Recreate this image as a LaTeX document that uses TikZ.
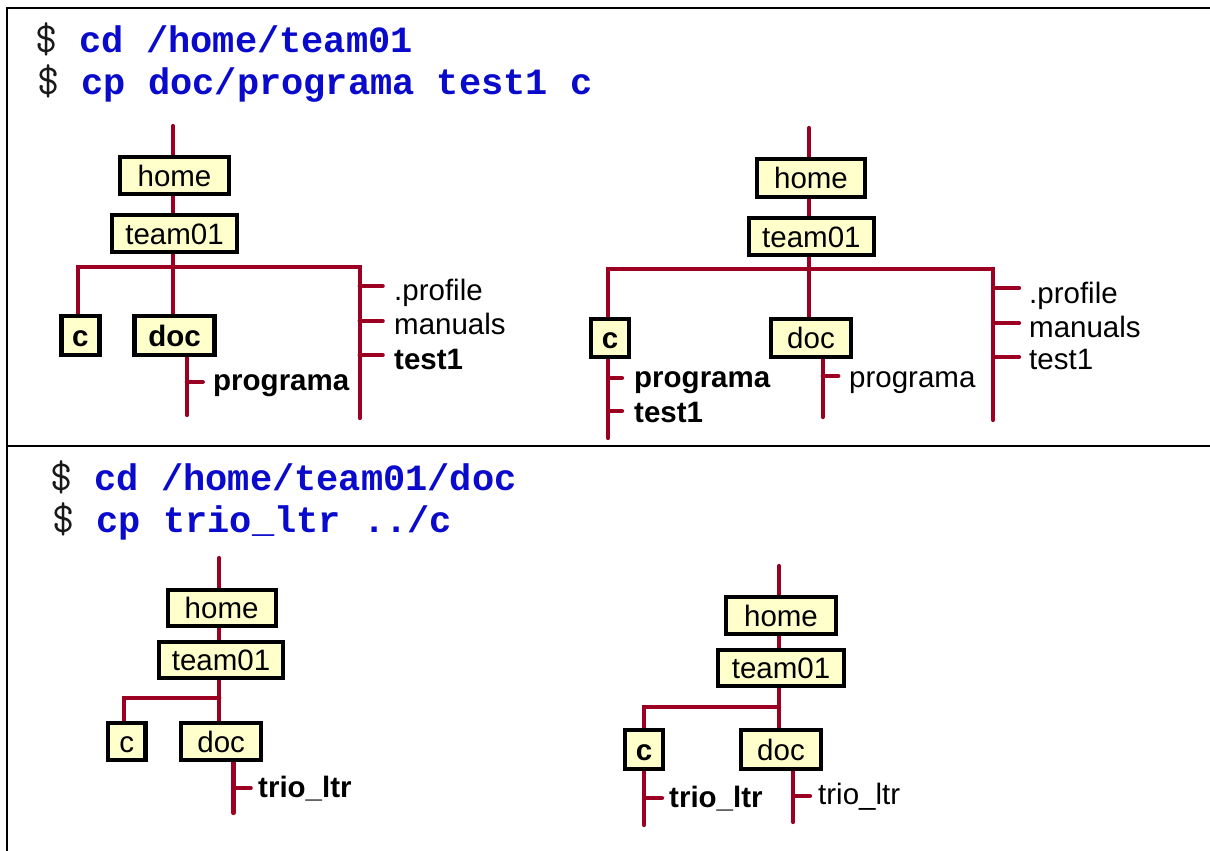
\documentclass[tikz,border=0pt]{standalone}
\usepackage{fontspec}
\setmainfont{Liberation Sans}
\newfontfamily\cmdfont{Liberation Mono}
\usetikzlibrary{backgrounds}
\definecolor{treered}{RGB}{155,0,35}
\definecolor{cmdblue}{RGB}{10,10,205}
\definecolor{boxfill}{RGB}{255,255,204}
\definecolor{dollar}{RGB}{25,25,25}
\tikzset{
  frame/.style={line width=2.5pt, black},
  tree/.style={line width=4.2pt, treered, line cap=round, line join=miter},
  dirbox/.style={draw=black, line width=4.2pt, fill=boxfill, inner sep=0pt, text height=21pt, text depth=0pt},
  item/.style={anchor=base west, inner sep=0pt},
  cmd/.style={anchor=base west, inner sep=0pt, font=\cmdfont\fontsize{37}{40}\selectfont},
  treefont/.style={font=\fontsize{29.5}{33}\selectfont},
}
\newcommand{\dollarsign}{\makebox[22.2pt][l]{\ttfamily\mdseries\fontsize{43}{43}\selectfont\color{dollar}\$}}
\begin{document}
\begin{tikzpicture}[x=1pt,y=-1pt]
\useasboundingbox (0,0) rectangle (1210,851);
\begin{scope}[on background layer]
\fill[white] (0,0) rectangle (1210,851);
\end{scope}
% frame
\draw[frame] (7,851) -- (7,8) -- (1210,8);
\draw[frame] (7,446) -- (1210,446);

% commands
\node[cmd] (cmd1) at (35,53) {\dollarsign{} \textbf{\color{cmdblue}cd /home/team01}};
\node[cmd] (cmd2) at (37,95) {\dollarsign{} \textbf{\color{cmdblue}cp doc/programa test1 c}};
\node[cmd] (cmd3) at (50,490) {\dollarsign{} \textbf{\color{cmdblue}cd /home/team01/doc}};
\node[cmd] (cmd4) at (52,532) {\dollarsign{} \textbf{\color{cmdblue}cp trio\_ltr ../c}};

\begin{scope}[treefont]
% ---------- top-left tree ----------
\node[dirbox, minimum width=109pt, minimum height=37pt] (hA) at (174.5,175.5) {home};
\node[dirbox, minimum width=124.5pt, minimum height=37pt] (tA) at (174.5,233.5) {team01};
\node[dirbox, minimum width=38pt, minimum height=39pt] (cA) at (80.4,335.5) {\bfseries c};
\node[dirbox, minimum width=80pt, minimum height=39pt] (dA) at (174.5,335.5) {\bfseries doc};
\node[item] (pA) at (213,390) {\bfseries programa};
\node[item] (prA) at (394,300) {.profile};
\node[item] (mA) at (394,334) {manuals};
\node[item] (xA) at (394,369) {\bfseries test1};

% ---------- top-right tree ----------
\node[dirbox, minimum width=108.5pt, minimum height=38pt] (hB) at (811,178) {home};
\node[dirbox, minimum width=125.5pt, minimum height=37pt] (tB) at (811.4,236.5) {team01};
\node[dirbox, minimum width=38pt, minimum height=38pt] (cB) at (610,338) {\bfseries c};
\node[dirbox, minimum width=80.5pt, minimum height=38pt] (dB) at (811,338) {doc};
\node[item] (pB1) at (634,387) {\bfseries programa};
\node[item] (xB1) at (634,422) {\bfseries test1};
\node[item] (pB2) at (849,387) {programa};
\node[item] (prB) at (1029,303) {.profile};
\node[item] (mB) at (1029,337) {manuals};
\node[item] (xB) at (1029,369) {test1};

% ---------- bottom-left tree ----------
\node[dirbox, minimum width=108pt, minimum height=36pt] (hC) at (221.6,608) {home};
\node[dirbox, minimum width=124pt, minimum height=36pt] (tC) at (221,660) {team01};
\node[dirbox, minimum width=37.5pt, minimum height=37pt] (cC) at (126.7,741.5) {c};
\node[dirbox, minimum width=80pt, minimum height=37pt] (dC) at (221.2,741.5) {doc};
\node[item] (pC) at (258,797) {\bfseries trio\_ltr};

% ---------- bottom-right tree ----------
\node[dirbox, minimum width=110pt, minimum height=37pt] (hD) at (781,615.5) {home};
\node[dirbox, minimum width=126pt, minimum height=36pt] (tD) at (781,668) {team01};
\node[dirbox, minimum width=38pt, minimum height=39pt] (cD) at (644,749.5) {\bfseries c};
\node[dirbox, minimum width=80pt, minimum height=39pt] (dD) at (781,749.5) {doc};
\node[item] (pD1) at (669,807) {\bfseries trio\_ltr};
\node[item] (pD2) at (818,804) {trio\_ltr};
\end{scope}

% connector coordinates
\coordinate (topA) at (173,126);
\coordinate (lA) at (77.7,267);
\coordinate (rA) at (359.7,267);
\coordinate (rAend) at (359.7,418);
\coordinate (dAx) at (186.8,415);

\coordinate (topB) at (809,128);
\coordinate (lB) at (608,269);
\coordinate (rB) at (993,269);
\coordinate (rBend) at (993,420);
\coordinate (cBx) at (608,438);
\coordinate (dBx) at (822.7,417);

\coordinate (topC) at (219.3,558);
\coordinate (jC) at (219.3,698);
\coordinate (lC) at (123.6,698);
\coordinate (dCx) at (233.4,813);

\coordinate (topD) at (779,566);
\coordinate (jD) at (779,707);
\coordinate (lD) at (644,707);
\coordinate (cDx) at (644,825);
\coordinate (dDx) at (793,822);

\begin{scope}[on background layer]
% top-left
\draw[tree] (topA) -- (hA.north -| topA);
\draw[tree] (hA.south -| topA) -- (tA.north -| topA);
\draw[tree] (tA.south -| topA) -- (dA.north -| topA);
\draw[tree] (lA |- cA.north) -- (lA) -- (rA) -- (rAend);
\draw[tree] (dAx |- dA.south) -- (dAx);
\draw[tree] (186.8,382) -- (202.8,382);
\draw[tree] (359.7,286) -- (382.7,286);
\draw[tree] (359.7,321) -- (382.7,321);
\draw[tree] (359.7,355) -- (382.7,355);
% top-right
\draw[tree] (topB) -- (hB.north -| topB);
\draw[tree] (hB.south -| topB) -- (tB.north -| topB);
\draw[tree] (tB.south -| topB) -- (dB.north -| topB);
\draw[tree] (lB |- cB.north) -- (lB) -- (rB) -- (rBend);
\draw[tree] (cBx |- cB.south) -- (cBx);
\draw[tree] (608,378) -- (622,378);
\draw[tree] (608,411) -- (622,411);
\draw[tree] (dBx |- dB.south) -- (dBx);
\draw[tree] (822.7,376) -- (838.3,376);
\draw[tree] (993,288) -- (1019,288);
\draw[tree] (993,323) -- (1019,323);
\draw[tree] (993,357) -- (1019,357);
% bottom-left
\draw[tree] (topC) -- (hC.north -| topC);
\draw[tree] (hC.south -| topC) -- (tC.north -| topC);
\draw[tree] (tC.south -| topC) -- (dC.north -| topC);
\draw[tree] (jC) -- (lC) -- (lC |- cC.north);
\draw[tree] (dCx |- dC.south) -- (dCx);
\draw[tree] (233.4,788) -- (250.7,788);
% bottom-right
\draw[tree] (topD) -- (hD.north -| topD);
\draw[tree] (hD.south -| topD) -- (tD.north -| topD);
\draw[tree] (tD.south -| topD) -- (dD.north -| topD);
\draw[tree] (jD) -- (lD) -- (lD |- cD.north);
\draw[tree] (cDx |- cD.south) -- (cDx);
\draw[tree] (644,798) -- (662,798);
\draw[tree] (dDx |- dD.south) -- (dDx);
\draw[tree] (793,796) -- (810,796);
\end{scope}
\end{tikzpicture}
\end{document}
